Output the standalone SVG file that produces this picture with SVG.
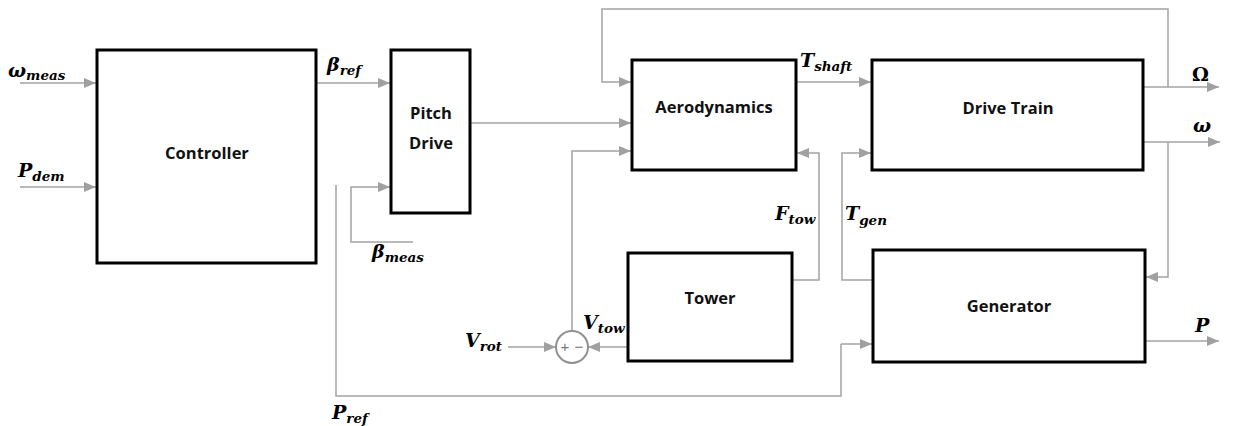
<svg xmlns="http://www.w3.org/2000/svg" width="1234" height="426" viewBox="0 0 1234 426">
<defs>
<marker id="ah" viewBox="0 0 12 10" refX="12" refY="5" markerWidth="12" markerHeight="10" markerUnits="userSpaceOnUse" orient="auto">
<path d="M0,0 L12,5 L0,10 Z" fill="#a0a0a0"/>
</marker>
</defs>
<style>
.box{fill:#fff;stroke:#000;stroke-width:3}
.bt{font-family:"Open Sans","Liberation Sans",sans-serif;font-weight:bold;font-size:16.5px;fill:#111;text-anchor:middle}
.ln{fill:none;stroke:#a3a3a3;stroke-width:1.5}
.ar{marker-end:url(#ah)}
.m{font-family:"DejaVu Serif","Liberation Serif",serif;font-weight:bold;font-style:italic;font-size:19px;fill:#000}
.s{font-size:13.5px}
.up{font-style:normal}
.pm{font-family:"Liberation Sans",sans-serif;font-size:15px;fill:#777;text-anchor:middle}
</style>
<rect width="1234" height="426" fill="#fff"/>
<g id="connectors">
<path class="ln ar" d="M20,83 H96"/>
<path class="ln ar" d="M20,187 H96"/>
<path class="ln ar" d="M317,83 H390"/>
<path class="ln ar" d="M413,242 H351 V187 H390"/>
<path class="ln" d="M336,185 V396 H841 V344"/>
<path class="ln ar" d="M841,344 H872"/>
<path class="ln ar" d="M471,123 H631"/>
<path class="ln ar" d="M1168,87 V9 H602 V82 H631"/>
<path class="ln ar" d="M797,82 H871"/>
<path class="ln ar" d="M1144,87 H1219"/>
<path class="ln ar" d="M1144,142 H1220"/>
<path class="ln ar" d="M1168,142 V277 H1146"/>
<path class="ln ar" d="M572,331 V151 H631"/>
<path class="ln ar" d="M793,280 H819 V153 H797"/>
<path class="ln ar" d="M873,280 H842 V153 H871"/>
<path class="ln ar" d="M627,347 H588"/>
<path class="ln ar" d="M508,347 H556"/>
<path class="ln ar" d="M1146,341 H1219"/>
</g>
<g id="controller"><rect class="box" x="97" y="50" width="219" height="213"/><text class="bt" x="207" y="159">Controller</text></g>
<g id="pitch-drive"><rect class="box" x="391" y="50" width="79" height="163"/><text class="bt" x="431" y="119">Pitch</text><text class="bt" x="431" y="149">Drive</text></g>
<g id="aerodynamics"><rect class="box" x="632" y="60" width="164" height="110"/><text class="bt" x="714" y="113">Aerodynamics</text></g>
<g id="drive-train"><rect class="box" x="872" y="60" width="271" height="110"/><text class="bt" x="1008" y="114">Drive Train</text></g>
<g id="tower"><rect class="box" x="628" y="253" width="164" height="108"/><text class="bt" x="710" y="304">Tower</text></g>
<g id="generator"><rect class="box" x="873" y="250" width="272" height="112"/><text class="bt" x="1009" y="312">Generator</text></g>
<g id="sum"><circle cx="572" cy="347" r="16" fill="#fff" stroke="#909090" stroke-width="2"/><text class="pm" x="565" y="352">+</text><text class="pm" x="579" y="352">−</text></g>
<g id="labels">
<text class="m" x="8" y="77">ω<tspan class="s" dy="3">meas</tspan></text>
<text class="m" x="18" y="177">P<tspan class="s" dy="4">dem</tspan></text>
<text class="m" x="327" y="71">β<tspan class="s" dy="4">ref</tspan></text>
<text class="m" x="372" y="258">β<tspan class="s" dy="4">meas</tspan></text>
<text class="m" x="800" y="67">T<tspan class="s" dy="4">shaft</tspan></text>
<text class="m" x="775" y="220">F<tspan class="s" dy="4">tow</tspan></text>
<text class="m" x="845" y="220">T<tspan class="s" dy="5">gen</tspan></text>
<text class="m" x="465" y="347">V<tspan class="s" dy="4">rot</tspan></text>
<text class="m" x="583" y="329">V<tspan class="s" dy="4">tow</tspan></text>
<text class="m" x="332" y="419">P<tspan class="s" dy="4">ref</tspan></text>
<text class="m up" x="1192" y="81">Ω</text>
<text class="m" x="1193" y="132">ω</text>
<text class="m" x="1195" y="332">P</text>
</g>
</svg>
